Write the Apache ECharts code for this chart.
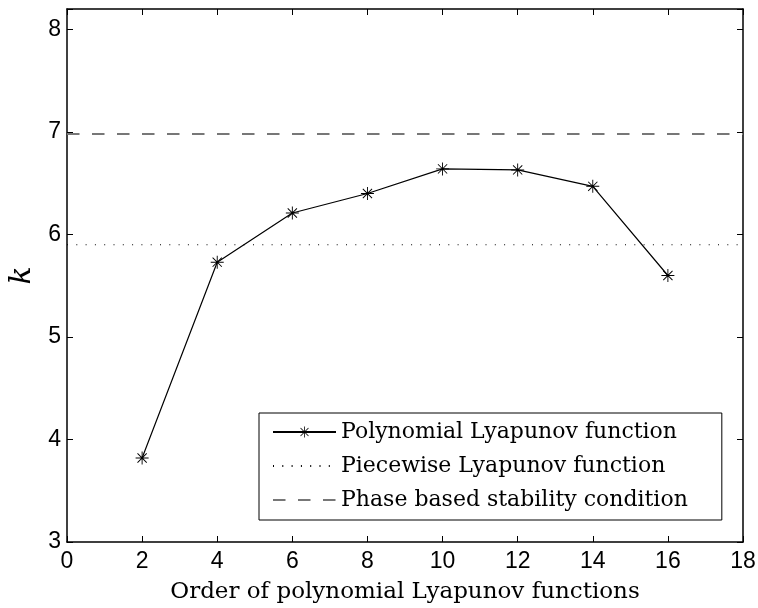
<!DOCTYPE html>
<html>
<head>
<meta charset="utf-8">
<script src="https://cdn.jsdelivr.net/npm/echarts@6/dist/echarts.min.js"></script>
<style>
  html, body { margin: 0; padding: 0; background: #fff; }
  #chart { width: 758px; height: 608px; }
</style>
</head>
<body>
<div id="chart"></div>
<script>
// data
const orders = [2, 4, 6, 8, 10, 12, 14, 16];
const polyK = [3.82, 5.73, 6.21, 6.40, 6.64, 6.63, 6.47, 5.60];
const piecewiseK = 5.90;
const phaseK = 6.98;
const xRange = [0, 18];
const yRange = [3, 8.2];
const seriesNames = ['Polynomial Lyapunov function', 'Piecewise Lyapunov function', 'Phase based stability condition'];

// matlab style asterisk (+ and x together), filled thin bars
const star = 'path://M9.3,0L10.7,0L10.7,20L9.3,20Z M0,9.3L20,9.3L20,10.7L0,10.7Z ' +
  'M3.4,2.4L17.6,16.6L16.6,17.6L2.4,3.4Z M17.6,3.4L3.4,17.6L2.4,16.6L16.6,2.4Z';

const sans = 'Liberation Sans';
const serif = 'DejaVu Serif';

const hidden = { show: false };
const ticks = { show: true, inside: true, length: 6, lineStyle: { color: '#000', width: 1 } };
const frame = { show: true, onZero: false, lineStyle: { color: '#000', width: 1.5 } };

const chart = echarts.init(document.getElementById('chart'), null, { renderer: 'canvas' });

chart.setOption({
  animation: false,
  backgroundColor: '#fff',
  grid: { left: 67, top: 9, right: 15, bottom: 66, containLabel: false, outerBoundsMode: 'none' },
  xAxis: [{
    type: 'value', min: xRange[0], max: xRange[1], interval: 2,
    axisLine: frame, axisTick: ticks, splitLine: hidden,
    axisLabel: { color: '#000', fontFamily: sans, fontSize: 23, margin: 8 },
    name: 'Order of polynomial Lyapunov functions',
    nameLocation: 'middle', nameGap: 39,
    nameTextStyle: { color: '#000', fontFamily: serif, fontSize: 23 }
  }, {
    type: 'value', position: 'top', min: xRange[0], max: xRange[1], interval: 2,
    axisLine: frame, axisTick: ticks, splitLine: hidden, axisLabel: hidden
  }],
  yAxis: [{
    type: 'value', min: yRange[0], max: yRange[1], interval: 1,
    axisLine: frame, axisTick: ticks, splitLine: hidden,
    axisLabel: {
      color: '#000', fontFamily: sans, fontSize: 23, margin: 6,
      formatter: v => (Number.isInteger(v) ? String(v) : '')
    },
    name: 'k', nameLocation: 'middle', nameGap: 22,
    nameTextStyle: { color: '#000', fontFamily: serif, fontStyle: 'italic', fontSize: 30 }
  }, {
    type: 'value', position: 'right', min: yRange[0], max: yRange[1], interval: 1,
    axisLine: frame, axisTick: ticks, splitLine: hidden, axisLabel: hidden
  }],
  legend: {
    orient: 'vertical', left: 259, top: 413,
    data: [
      { name: seriesNames[0] },
      { name: seriesNames[1], itemStyle: { opacity: 0 } },
      { name: seriesNames[2], itemStyle: { opacity: 0 } }
    ],
    backgroundColor: '#fff', borderColor: '#000', borderWidth: 1,
    padding: [8, 34, 9, 13],
    itemWidth: 63, itemHeight: 14, itemGap: 12,
    textStyle: { color: '#000', fontFamily: serif, fontSize: 22, lineHeight: 21 }
  },
  series: [{
    name: seriesNames[0], type: 'line',
    data: orders.map((o, i) => [o, polyK[i]]),
    symbol: star, symbolSize: 13, showSymbol: true,
    itemStyle: { color: '#000' },
    lineStyle: { color: '#000', width: 1.2 }
  }, {
    name: seriesNames[1], type: 'line',
    data: [[xRange[0], piecewiseK], [xRange[1], piecewiseK]],
    symbol: 'none', itemStyle: { color: '#000' },
    lineStyle: { color: '#000', width: 1, type: [1, 8.3] }
  }, {
    name: seriesNames[2], type: 'line',
    data: [[xRange[0], phaseK], [xRange[1], phaseK]],
    symbol: 'none', itemStyle: { color: '#777' },
    lineStyle: { color: '#777', width: 2, type: [12.5, 12.5] }
  }]
});
</script>
</body>
</html>
